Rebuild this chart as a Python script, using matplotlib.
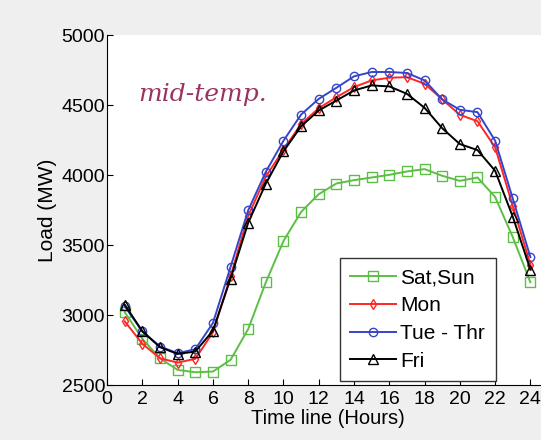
import numpy as np
import matplotlib.pyplot as plt

plt.rcParams['font.family'] = ['Liberation Sans', 'DejaVu Sans']

hours = np.arange(1, 25)
sat_sun = [3020, 2830, 2690, 2608, 2591, 2596, 2680, 2900, 3234, 3529, 3737, 3864,
           3940, 3964, 3983, 4002, 4026, 4043, 3995, 3959, 3983, 3844, 3557, 3234]
mon = [2955, 2794, 2691, 2660, 2687, 2876, 3277, 3708, 3990, 4182, 4366, 4478,
       4557, 4629, 4677, 4696, 4700, 4653, 4541, 4431, 4385, 4199, 3780, 3361]
tue_thr = [3062, 2883, 2775, 2727, 2756, 2943, 3344, 3749, 4024, 4246, 4433, 4545,
           4624, 4706, 4737, 4737, 4730, 4677, 4541, 4467, 4450, 4246, 3833, 3414]
fri = [3074, 2883, 2770, 2722, 2739, 2888, 3261, 3660, 3940, 4170, 4349, 4462,
       4533, 4605, 4641, 4634, 4581, 4481, 4335, 4222, 4179, 4031, 3703, 3325]

fig = plt.figure(figsize=(5.41, 4.40), dpi=100, facecolor='#efefef')
ax = fig.add_axes([0.198, 0.125, 0.815, 0.795])

ax.plot(hours, sat_sun, color='#5cbf45', marker='s', mfc='none', ms=6.5, lw=1.4, label='Sat,Sun')
ax.plot(hours, mon, color='#ff2626', marker='d', mfc='none', ms=5.5, lw=1.4, label='Mon')
ax.plot(hours, tue_thr, color='#3545c8', marker='o', mfc='none', ms=6, lw=1.4, label='Tue - Thr')
ax.plot(hours, fri, color='black', marker='^', mfc='none', ms=6.5, lw=1.4, label='Fri')

ax.set_xlim(0, 25)
ax.set_ylim(2500, 5000)
ax.set_xticks(np.arange(0, 25, 2))
ax.set_yticks(np.arange(2500, 5001, 500))
ax.tick_params(direction='in', labelsize=14, length=4)
ax.tick_params(axis='y', pad=1.5)
ax.tick_params(axis='x', pad=4)
ax.spines['top'].set_visible(False)
ax.spines['right'].set_visible(False)
ax.set_xlabel('Time line (Hours)', fontsize=14.5, labelpad=1)
ax.set_ylabel('Load (MW)', fontsize=15, labelpad=3)

ax.text(1.75, 4575, 'mid-temp.', fontsize=18, style='italic', family='DejaVu Serif',
        color='#993363', va='center')

leg = ax.legend(loc='upper left', bbox_to_anchor=(340 / 541, 1 - 258 / 440),
                bbox_transform=fig.transFigure, borderaxespad=0, fontsize=15,
                fancybox=False, edgecolor='#333333', handlelength=2.2,
                handletextpad=0.2, labelspacing=0.42, borderpad=0.5, framealpha=1)
leg.get_frame().set_linewidth(1.0)

plt.savefig('out.png', dpi=100, facecolor=fig.get_facecolor())
